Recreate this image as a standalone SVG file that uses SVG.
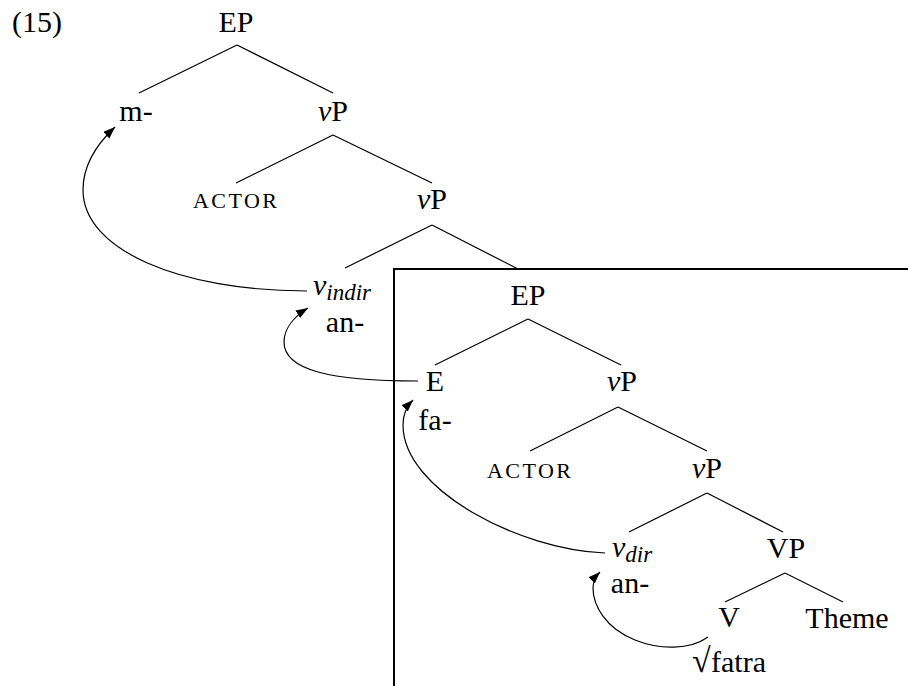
<svg xmlns="http://www.w3.org/2000/svg" width="908" height="686" viewBox="0 0 908 686" font-family="'Liberation Serif', 'DejaVu Serif', serif">
  <style>
    text { font-family: 'Liberation Serif', 'DejaVu Serif', serif; font-size: 30px; fill: #000; }
    .c { text-anchor: middle; }
    .it { font-style: italic; }
    .sub { font-size: 23px; font-style: italic; }
    .sc { font-size: 22px; }
    .edge { stroke: #000; stroke-width: 1.2; fill: none; }
    .move { stroke: #000; stroke-width: 1.2; fill: none; marker-end: url(#head); }
    .box { stroke: #000; stroke-width: 2; fill: none; }
  </style>
  <defs>
    <marker id="head" markerUnits="userSpaceOnUse" markerWidth="13" markerHeight="10" refX="12" refY="4.5" orient="auto">
      <path d="M0,0 L12,4.5 L0,9 z" fill="#000"/>
    </marker>
  </defs>

  <rect width="908" height="686" fill="#fff"/>

  <!-- example number -->
  <text x="12" y="32">(15)</text>

  <!-- embedded EP domain -->
  <rect class="box" x="394" y="269" width="600" height="500"/>

  <!-- tree branches and head-movement arrows -->
  <g id="connectors">
    <line class="edge" x1="237" y1="45" x2="139" y2="93"/>
    <line class="edge" x1="237" y1="45" x2="333" y2="93"/>
    <line class="edge" x1="333" y1="135" x2="236" y2="183"/>
    <line class="edge" x1="333" y1="135" x2="432" y2="183"/>
    <line class="edge" x1="432" y1="225" x2="345" y2="268"/>
    <line class="edge" x1="432" y1="225" x2="518" y2="269"/>
    <line class="edge" x1="528" y1="319" x2="435" y2="365"/>
    <line class="edge" x1="528" y1="319" x2="621" y2="365"/>
    <line class="edge" x1="618" y1="407" x2="530" y2="451"/>
    <line class="edge" x1="618" y1="407" x2="707" y2="451"/>
    <line class="edge" x1="707" y1="493" x2="629" y2="532"/>
    <line class="edge" x1="707" y1="493" x2="783" y2="532"/>
    <line class="edge" x1="785" y1="573" x2="725" y2="602"/>
    <line class="edge" x1="785" y1="573" x2="843" y2="602"/>

    <path class="move" d="M307,291 C180,291 83,250 83,190 C83,165 98,143 115,127"/>
    <path class="move" d="M418,381 C330,381 284,370 284,342 C284,328 295,316 308,308"/>
    <path class="move" d="M605,553 C520,550 403,490 403,425 C403,414 407,406 413,400"/>
    <path class="move" d="M708,637 C690,650 660,650 635,640 C605,628 593,605 593,588 C593,582 596,576 600,572"/>
  </g>

  <g id="n-ep-top"><text class="c" x="236" y="32">EP</text></g>
  <g id="n-m"><text class="c" x="136" y="121">m-</text></g>
  <g id="n-vp1"><text class="c" x="333" y="121"><tspan class="it">v</tspan>P</text></g>
  <g id="n-actor1"><text class="c sc" x="235" y="208" textLength="84" lengthAdjust="spacing">ACTOR</text></g>
  <g id="n-vp2"><text class="c" x="432" y="209"><tspan class="it">v</tspan>P</text></g>
  <g id="n-vindir">
    <text x="313" y="295"><tspan class="it">v</tspan><tspan class="sub" dy="5">indir</tspan></text>
    <text class="c" x="345" y="332">an-</text>
  </g>
  <g id="n-ep-inner"><text class="c" x="528" y="305">EP</text></g>
  <g id="n-e">
    <text class="c" x="435" y="391">E</text>
    <text class="c" x="435" y="430">fa-</text>
  </g>
  <g id="n-vp3"><text class="c" x="622" y="391"><tspan class="it">v</tspan>P</text></g>
  <g id="n-actor2"><text class="c sc" x="529" y="478" textLength="84" lengthAdjust="spacing">ACTOR</text></g>
  <g id="n-vp4"><text class="c" x="707" y="478"><tspan class="it">v</tspan>P</text></g>
  <g id="n-vdir">
    <text x="612" y="557"><tspan class="it">v</tspan><tspan class="sub" dy="5">dir</tspan></text>
    <text class="c" x="630" y="593">an-</text>
  </g>
  <g id="n-vp-big"><text class="c" x="786" y="558">VP</text></g>
  <g id="n-v">
    <text class="c" x="729" y="627">V</text>
    <text x="692" y="672"><tspan font-size="34">√</tspan><tspan x="711">fatra</tspan></text>
  </g>
  <g id="n-theme"><text class="c" x="847" y="628">Theme</text></g>
</svg>
